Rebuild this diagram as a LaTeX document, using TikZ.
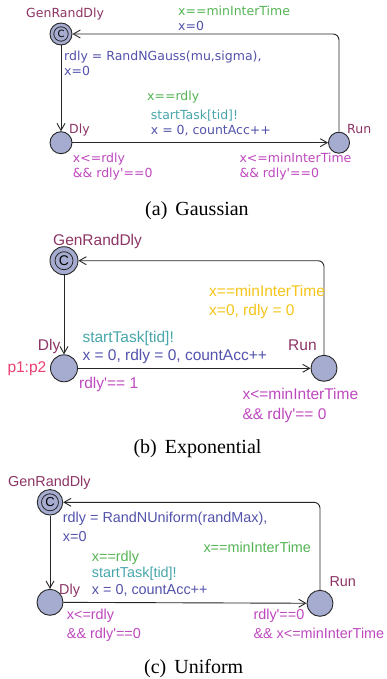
\documentclass[tikz,border=0pt]{standalone}
\usepackage{fontspec}
\setmainfont{Liberation Serif}
\newfontfamily\dvsans{DejaVu Sans}
\newfontfamily\arsans{Liberation Sans}
\usetikzlibrary{arrows.meta}

\definecolor{locfill}{RGB}{166,172,208}
\definecolor{namecol}{RGB}{140,52,100}
\definecolor{guardcol}{RGB}{84,180,84}
\definecolor{synccol}{RGB}{72,166,170}
\definecolor{updcol}{RGB}{82,82,172}
\definecolor{invcol}{RGB}{190,72,190}
\definecolor{goldcol}{RGB}{245,196,24}
\definecolor{ratecol}{RGB}{232,62,112}

\newcommand{\fonta}{\dvsans\fontsize{12.5}{14}\selectfont}
\newcommand{\fontb}{\arsans\fontsize{15.5}{19}\selectfont}
\newcommand{\fontc}{\arsans\fontsize{14.4}{19}\selectfont}

\begin{document}
\begin{tikzpicture}[
  x=1pt, y=-1pt,
  loc/.style={circle, draw=black!85, fill=locfill, line width=0.9pt, inner sep=0pt},
  commit/.style={loc, path picture={
      \draw[black!85, line width=0.8pt] (path picture bounding box.center) circle[radius=#1];
      \node[inner sep=0pt] at (path picture bounding box.center) {C};}},
  edge/.style={draw=black!85, line width=0.9pt, -{Straight Barb[length=7pt, width=8pt]}},
  lbl/.style={anchor=base west, inner sep=0pt},
  subcap/.style={anchor=base, inner sep=0pt, font=\fontsize{20}{24}\selectfont},
]
\useasboundingbox (0,0) rectangle (386,679);

% === (a) GAUSSIAN ===
\node[commit=7.2pt, minimum size=22pt, font=\dvsans\fontsize{10}{10}\selectfont] (ga) at (61,34) {};
\node[loc, minimum size=22pt] (da) at (61,142.7) {};
\node[loc, minimum size=21pt] (ra) at (339,142.7) {};

\draw[edge] (ga) -- (da);
\draw[edge] (da) -- (ra);
\draw[edge, rounded corners=6pt] (ra) |- (ga);

\node[lbl, font=\fonta, text=namecol] (gaN) at (26,18) {GenRandDly};
\node[lbl, font=\fonta, text=namecol] (daN) at (69,133.5) {Dly};
\node[lbl, font=\fonta, text=namecol] (raN) at (347,133.5) {Run};

\node[lbl, font=\fonta, text=guardcol] (aG1) at (178,16) {x==minInterTime};
\node[lbl, font=\fonta, text=updcol] (aU1) at (178,31) {x=0};
\node[lbl, font=\fonta, text=updcol] (aU2) at (64,61) {rdly = RandNGauss(mu,sigma),};
\node[lbl, font=\fonta, text=updcol] (aU3) at (64,75.5) {x=0};
\node[lbl, font=\fonta, text=guardcol] (aG2) at (147,101) {x==rdly};
\node[lbl, font=\fonta, text=synccol] (aS) at (150.7,119.5) {startTask[tid]!};
\node[lbl, font=\fonta, text=updcol] (aU4) at (150.7,134.5) {x = 0, countAcc++};
\node[lbl, font=\fonta, text=invcol] (aI1) at (72.7,163) {x<=rdly};
\node[lbl, font=\fonta, text=invcol] (aI2) at (72.7,177) {\&\& rdly'==0};
\node[lbl, font=\fonta, text=invcol] (aI3) at (239.3,163) {x<=minInterTime};
\node[lbl, font=\fonta, text=invcol] (aI4) at (239.3,177) {\&\& rdly'==0};

\node[subcap] (capa) at (197,215) {(a)\hspace{0.4em}Gaussian};

% === (b) EXPONENTIAL ===
\node[commit=9pt, minimum size=28pt, font=\arsans\fontsize{14}{14}\selectfont] (gb) at (64,260.7) {};
\node[loc, minimum size=27pt] (db) at (64,368.3) {};
\node[loc, minimum size=26pt] (rb) at (324,368.3) {};

\draw[edge] (gb) -- (db);
\draw[edge] (db) -- (rb);
\draw[edge, rounded corners=6pt] (rb) |- (gb);

\node[lbl, font=\fontb, text=namecol] (gbN) at (53,245) {GenRandDly};
\node[lbl, font=\fontb, text=namecol] (dbN) at (37.7,350) {Dly};
\node[lbl, font=\fontb, text=namecol] (rbN) at (288,350) {Run};
\node[lbl, font=\fontb, text=ratecol] (dbR) at (7.3,372.3) {p1:p2};

\node[lbl, font=\fontb, text=goldcol] (bG1) at (209,296.6) {x==minInterTime};
\node[lbl, font=\fontb, text=goldcol] (bU1) at (209,315) {x=0, rdly = 0};
\node[lbl, font=\fontb, text=synccol] (bS) at (82.3,342.3) {startTask[tid]!};
\node[lbl, font=\fontb, text=updcol] (bU2) at (82.3,360.6) {x = 0, rdly = 0, countAcc++};
\node[lbl, font=\fontb, text=invcol] (bI1) at (79,388.3) {rdly'== 1};
\node[lbl, font=\fontb, text=invcol] (bI2) at (242.3,399) {x<=minInterTime};
\node[lbl, font=\fontb, text=invcol] (bI3) at (242.3,419) {\&\& rdly'== 0};

\node[subcap] (capb) at (197.5,453.3) {(b)\hspace{0.4em}Exponential};

% === (c) UNIFORM ===
\node[commit=8.5pt, minimum size=25.5pt, font=\arsans\fontsize{13}{13}\selectfont] (gc) at (50,502.3) {};
\node[loc, minimum size=26pt] (dc) at (50,602.3) {};
\node[loc, minimum size=26pt] (rc) at (320,603.3) {};

\draw[edge] (gc) -- (dc);
\draw[edge] (dc) -- (rc);
\draw[edge, rounded corners=6pt] (rc) |- (gc);

\node[lbl, font=\fontc, text=namecol] (gcN) at (8,486) {GenRandDly};
\node[lbl, font=\fontc, text=namecol] (dcN) at (59,594) {Dly};
\node[lbl, font=\fontc, text=namecol] (rcN) at (329.3,586) {Run};

\node[lbl, font=\fontc, text=updcol] (cU1) at (62.7,522) {rdly = RandNUniform(randMax),};
\node[lbl, font=\fontc, text=updcol] (cU2) at (62.7,541) {x=0};
\node[lbl, font=\fontc, text=guardcol] (cG1) at (203.3,552.5) {x==minInterTime};
\node[lbl, font=\fontc, text=guardcol] (cG2) at (91.7,561) {x==rdly};
\node[lbl, font=\fontc, text=synccol] (cS) at (91.7,577.5) {startTask[tid]!};
\node[lbl, font=\fontc, text=updcol] (cU3) at (91.7,594) {x = 0, countAcc++};
\node[lbl, font=\fontc, text=invcol] (cI1) at (66.7,619) {x<=rdly};
\node[lbl, font=\fontc, text=invcol] (cI2) at (66.7,638.5) {\&\& rdly'==0};
\node[lbl, font=\fontc, text=invcol] (cI3) at (253.3,619) {rdly'==0};
\node[lbl, font=\fontc, text=invcol] (cI4) at (253.3,638.5) {\&\& x<=minInterTime};

\node[subcap] (capc) at (193.7,673) {(c)\hspace{0.4em}Uniform};
\end{tikzpicture}
\end{document}
